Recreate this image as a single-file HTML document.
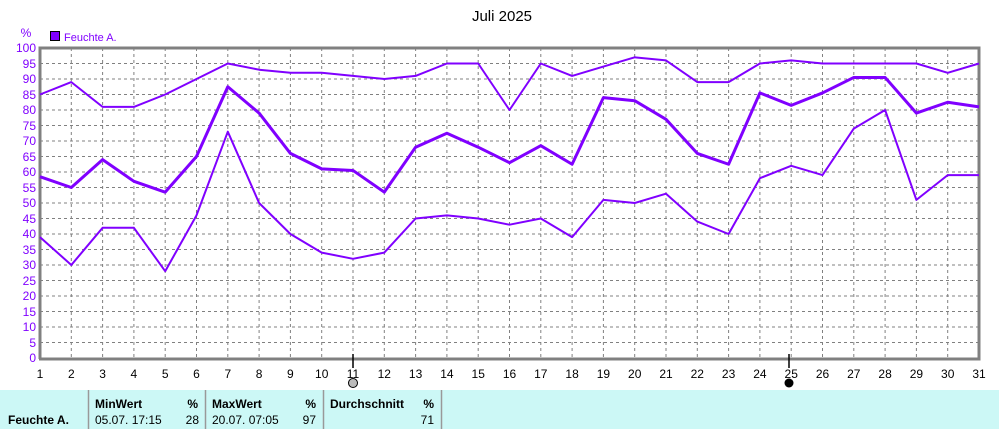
<!DOCTYPE html>
<html><head><meta charset="utf-8"><style>
body{margin:0;background:#fff;}
svg text{font-family:"Liberation Sans",sans-serif;}
</style></head><body>
<svg width="1000" height="429" xmlns="http://www.w3.org/2000/svg">
<rect width="1000" height="429" fill="#fff"/>
<text x="502" y="21" font-size="15" text-anchor="middle">Juli 2025</text>
<text x="26" y="37" font-size="12" fill="#8000ff" text-anchor="middle">%</text>
<rect x="50.5" y="31.5" width="9" height="9" fill="#8000ff" stroke="#000"/>
<text x="64" y="41" font-size="11" fill="#8000ff">Feuchte A.</text>
<g stroke="#808080" stroke-dasharray="3,3" stroke-width="1">
<path d="M40 63.5H979M40 79H979M40 94.5H979M40 110H979M40 125.5H979M40 141H979M40 156.5H979M40 172H979M40 187.5H979M40 203H979M40 218.5H979M40 234H979M40 249.5H979M40 265H979M40 280.5H979M40 296H979M40 311.5H979M40 327H979M40 342.5H979"/>
<path d="M71.3 48V358M102.6 48V358M133.9 48V358M165.2 48V358M196.5 48V358M227.8 48V358M259.1 48V358M290.4 48V358M321.7 48V358M353 48V358M384.3 48V358M415.6 48V358M446.9 48V358M478.2 48V358M509.5 48V358M540.8 48V358M572.1 48V358M603.4 48V358M634.7 48V358M666 48V358M697.3 48V358M728.6 48V358M759.9 48V358M791.2 48V358M822.5 48V358M853.8 48V358M885.1 48V358M916.4 48V358M947.7 48V358"/>
</g>
<path d="M40 359V48H979V359H39" fill="none" stroke="#808080" stroke-width="3"/>
<g font-size="12" fill="#8000ff" text-anchor="end">
<text x="36" y="52">100</text><text x="36" y="68">95</text><text x="36" y="83">90</text><text x="36" y="99">85</text><text x="36" y="114">80</text><text x="36" y="130">75</text><text x="36" y="145">70</text><text x="36" y="161">65</text><text x="36" y="176">60</text><text x="36" y="192">55</text><text x="36" y="207">50</text><text x="36" y="223">45</text><text x="36" y="238">40</text><text x="36" y="254">35</text><text x="36" y="269">30</text><text x="36" y="285">25</text><text x="36" y="300">20</text><text x="36" y="316">15</text><text x="36" y="331">10</text><text x="36" y="347">5</text><text x="36" y="362">0</text>
</g>
<g font-size="12" fill="#000" text-anchor="middle">
<text x="40" y="378">1</text><text x="71.3" y="378">2</text><text x="102.6" y="378">3</text><text x="133.9" y="378">4</text><text x="165.2" y="378">5</text><text x="196.5" y="378">6</text><text x="227.8" y="378">7</text><text x="259.1" y="378">8</text><text x="290.4" y="378">9</text><text x="321.7" y="378">10</text><text x="353" y="378">11</text><text x="384.3" y="378">12</text><text x="415.6" y="378">13</text><text x="446.9" y="378">14</text><text x="478.2" y="378">15</text><text x="509.5" y="378">16</text><text x="540.8" y="378">17</text><text x="572.1" y="378">18</text><text x="603.4" y="378">19</text><text x="634.7" y="378">20</text><text x="666" y="378">21</text><text x="697.3" y="378">22</text><text x="728.6" y="378">23</text><text x="759.9" y="378">24</text><text x="791.2" y="378">25</text><text x="822.5" y="378">26</text><text x="853.8" y="378">27</text><text x="885.1" y="378">28</text><text x="916.4" y="378">29</text><text x="947.7" y="378">30</text><text x="979" y="378">31</text>
</g>
<path d="M353 354V368M789 354V368" stroke="#000" stroke-width="1.5"/>
<circle cx="353" cy="383" r="4.5" fill="#bbb" stroke="#000"/>
<circle cx="789" cy="383" r="4.5" fill="#000"/>
<g transform="translate(0,358) scale(1,-3.1)" fill="none" stroke="#8000ff" stroke-linejoin="round">
<polyline vector-effect="non-scaling-stroke" stroke-width="2" points="40,85 71.3,89 102.6,81 133.9,81 165.2,85 196.5,90 227.8,95 259.1,93 290.4,92 321.7,92 353,91 384.3,90 415.6,91 446.9,95 478.2,95 509.5,80 540.8,95 572.1,91 603.4,94 634.7,97 666,96 697.3,89 728.6,89 759.9,95 791.2,96 822.5,95 853.8,95 885.1,95 916.4,95 947.7,92 979,95"/>
<polyline vector-effect="non-scaling-stroke" stroke-width="3" points="40,58.5 71.3,55 102.6,64 133.9,57 165.2,53.5 196.5,65 227.8,87.5 259.1,79 290.4,66 321.7,61 353,60.5 384.3,53.5 415.6,68 446.9,72.5 478.2,68 509.5,63 540.8,68.5 572.1,62.5 603.4,84 634.7,83 666,77 697.3,66 728.6,62.5 759.9,85.5 791.2,81.5 822.5,85.5 853.8,90.5 885.1,90.5 916.4,79 947.7,82.5 979,81"/>
<polyline vector-effect="non-scaling-stroke" stroke-width="2" points="40,39 71.3,30 102.6,42 133.9,42 165.2,28 196.5,46 227.8,73 259.1,50 290.4,40 321.7,34 353,32 384.3,34 415.6,45 446.9,46 478.2,45 509.5,43 540.8,45 572.1,39 603.4,51 634.7,50 666,53 697.3,44 728.6,40 759.9,58 791.2,62 822.5,59 853.8,74 885.1,80 916.4,51 947.7,59 979,59"/>
</g>
<rect x="0" y="390" width="999" height="39" fill="#ccf8f6"/>
<path d="M88.5 390V429M205.5 390V429M323.5 390V429M441.5 390V429" stroke="#999" stroke-width="1.5"/>
<g font-size="12" font-weight="bold" fill="#000">
<text x="8" y="424">Feuchte A.</text>
<text x="95" y="408">MinWert</text><text x="198" y="408" text-anchor="end">%</text>
<text x="212" y="408">MaxWert</text><text x="316" y="408" text-anchor="end">%</text>
<text x="330" y="408">Durchschnitt</text><text x="434" y="408" text-anchor="end">%</text>
</g>
<g font-size="12" fill="#000">
<text x="95" y="424">05.07.  17:15</text><text x="199" y="424" text-anchor="end">28</text>
<text x="212" y="424">20.07.  07:05</text><text x="316" y="424" text-anchor="end">97</text>
<text x="434" y="424" text-anchor="end">71</text>
</g>
</svg>
</body></html>
